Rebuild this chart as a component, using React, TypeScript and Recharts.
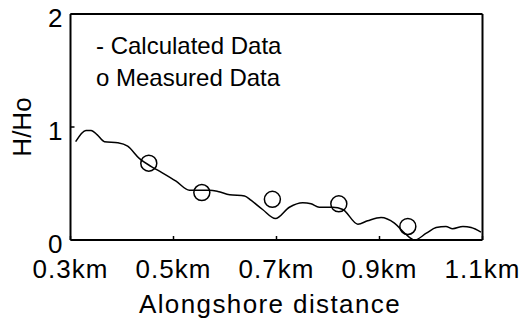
import React from "react";
import { ComposedChart, Line, Scatter, XAxis, YAxis } from "recharts";

// calculated wave height ratio along the shore (km, H/Ho)
const calcKm = [
  0.31, 0.33, 0.34, 0.352, 0.366, 0.392, 0.411, 0.434, 0.457, 0.476, 0.505,
  0.531, 0.57, 0.586, 0.609, 0.638, 0.651, 0.673, 0.698, 0.725, 0.751, 0.767,
  0.783, 0.809, 0.829, 0.858, 0.877, 0.903, 0.929, 0.949, 0.968, 0.991, 1.01,
  1.029, 1.042, 1.062, 1.078, 1.097,
];
const calcH = [
  0.87, 0.97, 0.97, 0.93, 0.87, 0.86, 0.83, 0.72, 0.65, 0.6, 0.52, 0.44, 0.44,
  0.43, 0.4, 0.39, 0.35, 0.27, 0.19, 0.29, 0.33, 0.32, 0.29, 0.29, 0.27, 0.14,
  0.17, 0.2, 0.15, 0.06, 0.0, 0.06, 0.11, 0.12, 0.1, 0.12, 0.11, 0.07,
];

// field measurements
const measKm = [0.452, 0.555, 0.692, 0.821, 0.955];
const measH = [0.68, 0.42, 0.36, 0.32, 0.12];

const xTicks = [0.3, 0.5, 0.7, 0.9, 1.1];
const yTicks = [0, 1, 2];
const legendLines = ["- Calculated Data", "o Measured Data"];

const calcData = calcKm.map((x, i) => ({ x, h: calcH[i] }));
const measData = measKm.map((x, i) => ({ x, h: measH[i] }));

const FONT = "'Liberation Sans', Arial, sans-serif";
const TICK = 4;

const BottomTick = (props: any) => {
  const { x, y, payload } = props;
  return (
    <g>
      <line x1={x} y1={y} x2={x} y2={y - TICK} stroke="#000" strokeWidth={1.5} />
      <text
        x={x}
        y={y + 38}
        textAnchor="middle"
        fontFamily={FONT}
        fontSize={26}
        letterSpacing={1}
        fill="#000"
      >
        {`${payload.value}km`}
      </text>
    </g>
  );
};

const TopTick = (props: any) => {
  const { x, y } = props;
  return <line x1={x} y1={y} x2={x} y2={y + TICK} stroke="#000" strokeWidth={1.5} />;
};

const LeftTick = (props: any) => {
  const { x, y, payload } = props;
  return (
    <g>
      <line x1={x} y1={y} x2={x + TICK} y2={y} stroke="#000" strokeWidth={1.5} />
      <text
        x={x - 8}
        y={y + 13}
        textAnchor="end"
        fontFamily={FONT}
        fontSize={26}
        fill="#000"
      >
        {payload.value}
      </text>
    </g>
  );
};

const RightTick = (props: any) => {
  const { x, y } = props;
  return <line x1={x} y1={y} x2={x - TICK} y2={y} stroke="#000" strokeWidth={1.5} />;
};

const Ring = (props: any) => {
  const { cx, cy } = props;
  return <circle cx={cx} cy={cy} r={8} fill="none" stroke="#000" strokeWidth={1.5} />;
};

const axisLine = { stroke: "#000", strokeWidth: 2 };

export default function App() {
  return (
    <div style={{ position: "absolute", left: 0, top: 0, background: "#fff" }}>
      <ComposedChart
        width={523}
        height={320}
        margin={{ top: 13, right: 39.5, bottom: 79, left: 69.5 }}
      >
        <XAxis
          xAxisId="b"
          dataKey="x"
          type="number"
          domain={[0.3, 1.1]}
          ticks={xTicks}
          height={1}
          tickSize={0}
          tickMargin={0}
          tickLine={false}
          axisLine={axisLine}
          tick={<BottomTick />}
          interval={0}
        />
        <XAxis
          xAxisId="t"
          orientation="top"
          type="number"
          domain={[0.3, 1.1]}
          ticks={xTicks}
          height={1}
          tickSize={0}
          tickMargin={0}
          tickLine={false}
          axisLine={axisLine}
          tick={<TopTick />}
          interval={0}
        />
        <YAxis
          yAxisId="l"
          type="number"
          domain={[0, 2]}
          ticks={yTicks}
          width={1}
          tickSize={0}
          tickMargin={0}
          tickLine={false}
          axisLine={axisLine}
          tick={<LeftTick />}
          interval={0}
        />
        <YAxis
          yAxisId="r"
          orientation="right"
          type="number"
          domain={[0, 2]}
          ticks={yTicks}
          width={1}
          tickSize={0}
          tickMargin={0}
          tickLine={false}
          axisLine={axisLine}
          tick={<RightTick />}
          interval={0}
        />
        <Line
          xAxisId="b"
          yAxisId="l"
          data={calcData}
          dataKey="h"
          type="monotone"
          stroke="#000"
          strokeWidth={1.5}
          dot={false}
          isAnimationActive={false}
        />
        <Scatter
          xAxisId="b"
          yAxisId="l"
          data={measData}
          dataKey="h"
          shape={<Ring />}
          isAnimationActive={false}
        />
        <text
          x={22}
          y={127}
          transform="rotate(-90 22 127)"
          textAnchor="middle"
          dominantBaseline="central"
          fontFamily={FONT}
          fontSize={26}
          fill="#000"
        >
          H/Ho
        </text>
        <text
          x={270}
          y={313}
          textAnchor="middle"
          fontFamily={FONT}
          fontSize={26}
          letterSpacing={1.4}
          fill="#000"
        >
          Alongshore distance
        </text>
        {legendLines.map((s, i) => (
          <text
            key={s}
            x={96}
            y={54 + i * 32}
            fontFamily={FONT}
            fontSize={24}
            fill="#000"
          >
            {s}
          </text>
        ))}
      </ComposedChart>
    </div>
  );
}
